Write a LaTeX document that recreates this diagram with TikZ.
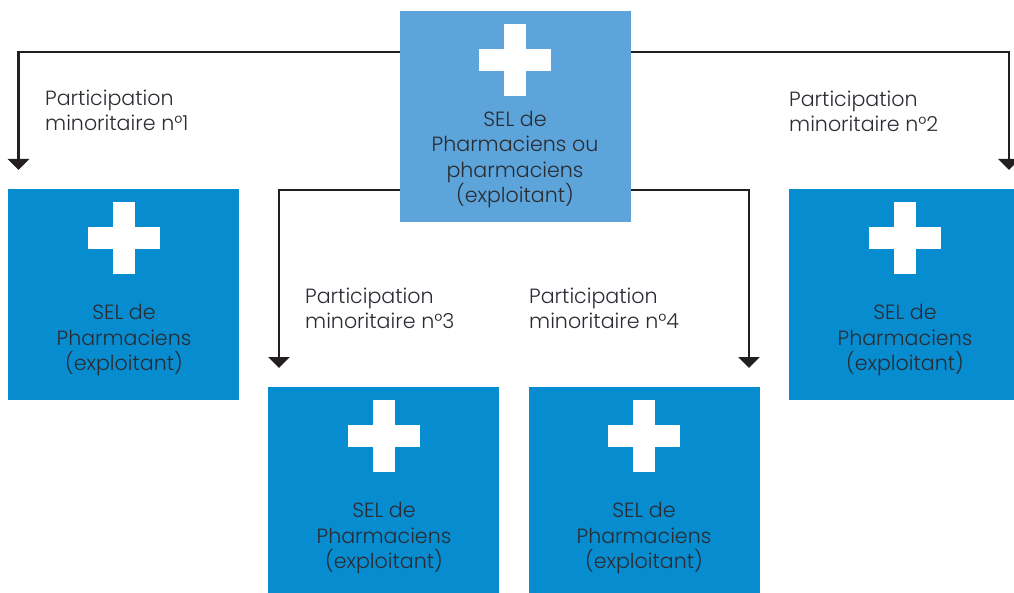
\documentclass[tikz,border=0pt]{standalone}
\usepackage{fontspec}
\setmainfont{Poppins Light}
\usetikzlibrary{arrows.meta,calc}
\definecolor{boxblue}{HTML}{078CD0}
\definecolor{topblue}{HTML}{5CA4D9}
\definecolor{inkc}{HTML}{2A2C33}
\definecolor{linec}{HTML}{231F20}
\tikzset{
  x=1pt,y=-1pt,
  sbox/.style={rectangle,inner sep=0,outer sep=0,anchor=north west,fill=boxblue},
  crossbar/.style={rectangle,inner sep=0,outer sep=0,fill=white,minimum width=72pt,minimum height=22pt},
  crossup/.style={rectangle,inner sep=0,outer sep=0,fill=white,minimum width=22pt,minimum height=72pt},
  boxtext/.style={align=center,text=inkc,font=\fontsize{20.6}{25.3}\selectfont,inner sep=0,anchor=north},
  lab/.style={align=left,text=inkc,font=\fontsize{20.6}{25.3}\selectfont,inner sep=0,anchor=north west},
  arrowline/.style={draw=linec,line width=2.4pt,-{Triangle[width=21pt,length=11pt]}}
}
\begin{document}
\begin{tikzpicture}
\useasboundingbox (0,0) rectangle (1014,593);
% boxes
\node[sbox,fill=topblue,minimum width=231pt,minimum height=211pt] (top) at (400,11) {};
\node[sbox,minimum width=231pt,minimum height=211pt] (b1) at (8,189) {};
\node[sbox,minimum width=225pt,minimum height=211pt] (b2) at (789,189) {};
\node[sbox,minimum width=231pt,minimum height=206pt] (b3) at (268,387) {};
\node[sbox,minimum width=231pt,minimum height=206pt] (b4) at (529,387) {};
% crosses
\node[crossbar] (c0h) at (515,60) {}; \node[crossup] (c0v) at (515,60) {};
\node[crossbar] (c1h) at (124,238) {}; \node[crossup] (c1v) at (124,238) {};
\node[crossbar] (c2h) at (905,238) {}; \node[crossup] (c2v) at (905,238) {};
\node[crossbar] (c3h) at (384,436) {}; \node[crossup] (c3v) at (384,436) {};
\node[crossbar] (c4h) at (644,436) {}; \node[crossup] (c4v) at (644,436) {};
% box texts
\node[boxtext] (t0) at (515,111) {SEL de\\Pharmaciens ou\\pharmaciens\\(exploitant)};
\node[boxtext] (t1) at (124,304.5) {SEL de\\Pharmaciens\\(exploitant)};
\node[boxtext] (t2) at (905,304.5) {SEL de\\Pharmaciens\\(exploitant)};
\node[boxtext] (t3) at (384,502.5) {SEL de\\Pharmaciens\\(exploitant)};
\node[boxtext] (t4) at (644,502.5) {SEL de\\Pharmaciens\\(exploitant)};
% labels
\node[lab] (l1) at (45,90) {Participation\\minoritaire n°1};
\node[lab] (l2) at (789,91) {Participation\\minoritaire n°2};
\node[lab] (l3) at (305,288) {Participation\\minoritaire n°3};
\node[lab] (l4) at (529,288) {Participation\\minoritaire n°4};
% connector ends
\coordinate (e1) at (18.5,170);
\coordinate (e2) at (1009,170);
\coordinate (e3) at (279,368);
\coordinate (e4) at (749,368);
% connectors
\draw[arrowline] (top.west |- 0,52) -| (e1);
\draw[arrowline] (top.east |- 0,52) -| (e2);
\draw[arrowline] (top.west |- 0,190) -| (e3);
\draw[arrowline] (top.east |- 0,190) -| (e4);
\end{tikzpicture}
\end{document}
